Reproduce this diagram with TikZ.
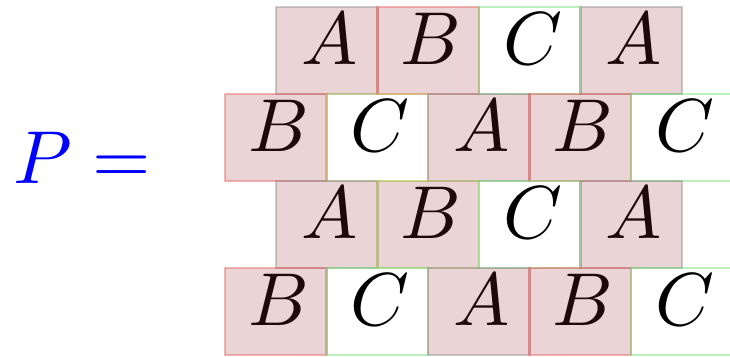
\documentclass[tikz,border=0pt]{standalone}
\usepackage{graphicx}
\definecolor{pinkfill}{RGB}{150,40,50}
\definecolor{bgray}{RGB}{140,140,140}
\definecolor{bred}{RGB}{230,90,90}
\definecolor{bgreen}{RGB}{110,220,110}
\definecolor{byellow}{RGB}{190,200,90}
\definecolor{bcyan}{RGB}{100,230,190}
\newcommand{\hugeletter}[1]{\scalebox{7.5}{$#1$}}
\begin{document}
\begin{tikzpicture}[x=1pt,y=-1pt,
  cellbox/.style={draw=#1, draw opacity=0.45, line width=2.4pt, minimum width=101.5pt, minimum height=87.5pt, inner sep=0pt, outer sep=0pt, fill=pinkfill},
  glyph/.style={anchor=base, inner sep=0pt},
  lhs/.style={anchor=base west, inner sep=0pt, text=blue}]
\useasboundingbox (0,0) rectangle (730,356);
% row 1
\foreach \L/\bc/\f [count=\i from 0] in {A/bgray/0.2,B/bred/0.2,C/bgreen/0,A/bgray/0.2}{
  \node[glyph] (ta\i) at (276+101.5*\i+53.5, 64.5) {\hugeletter{\L}};
  \node[cellbox=\bc, fill opacity=\f] (ca\i) at (276+101.5*\i+50.75, 50.5) {};
}
% row 2
\foreach \L/\bc/\f [count=\i from 0] in {B/bred/0.2,C/byellow/0,A/bgray/0.2,B/bred/0.2,C/bgreen/0}{
  \node[glyph] (tb\i) at (225+101.5*\i+53.5, 151.5) {\hugeletter{\L}};
  \node[cellbox=\bc, fill opacity=\f] (cb\i) at (225+101.5*\i+50.75, 137.5) {};
}
% row 3
\foreach \L/\bc/\f [count=\i from 0] in {A/bgray/0.2,B/byellow/0.2,C/bgreen/0,A/bgray/0.2}{
  \node[glyph] (tc\i) at (276+101.5*\i+53.5, 238) {\hugeletter{\L}};
  \node[cellbox=\bc, fill opacity=\f] (cc\i) at (276+101.5*\i+50.75, 224.5) {};
}
% row 4
\foreach \L/\bc/\f [count=\i from 0] in {B/bred/0.2,C/bgreen/0,A/bgray/0.2,B/bred/0.2,C/bgreen/0}{
  \node[glyph] (td\i) at (225+101.5*\i+53.5, 325) {\hugeletter{\L}};
  \node[cellbox=\bc, fill opacity=\f] (cd\i) at (225+101.5*\i+50.75, 311.5) {};
}
\node[lhs] (P) at (13,183) {\hugeletter{P=}};
\end{tikzpicture}
\end{document}
